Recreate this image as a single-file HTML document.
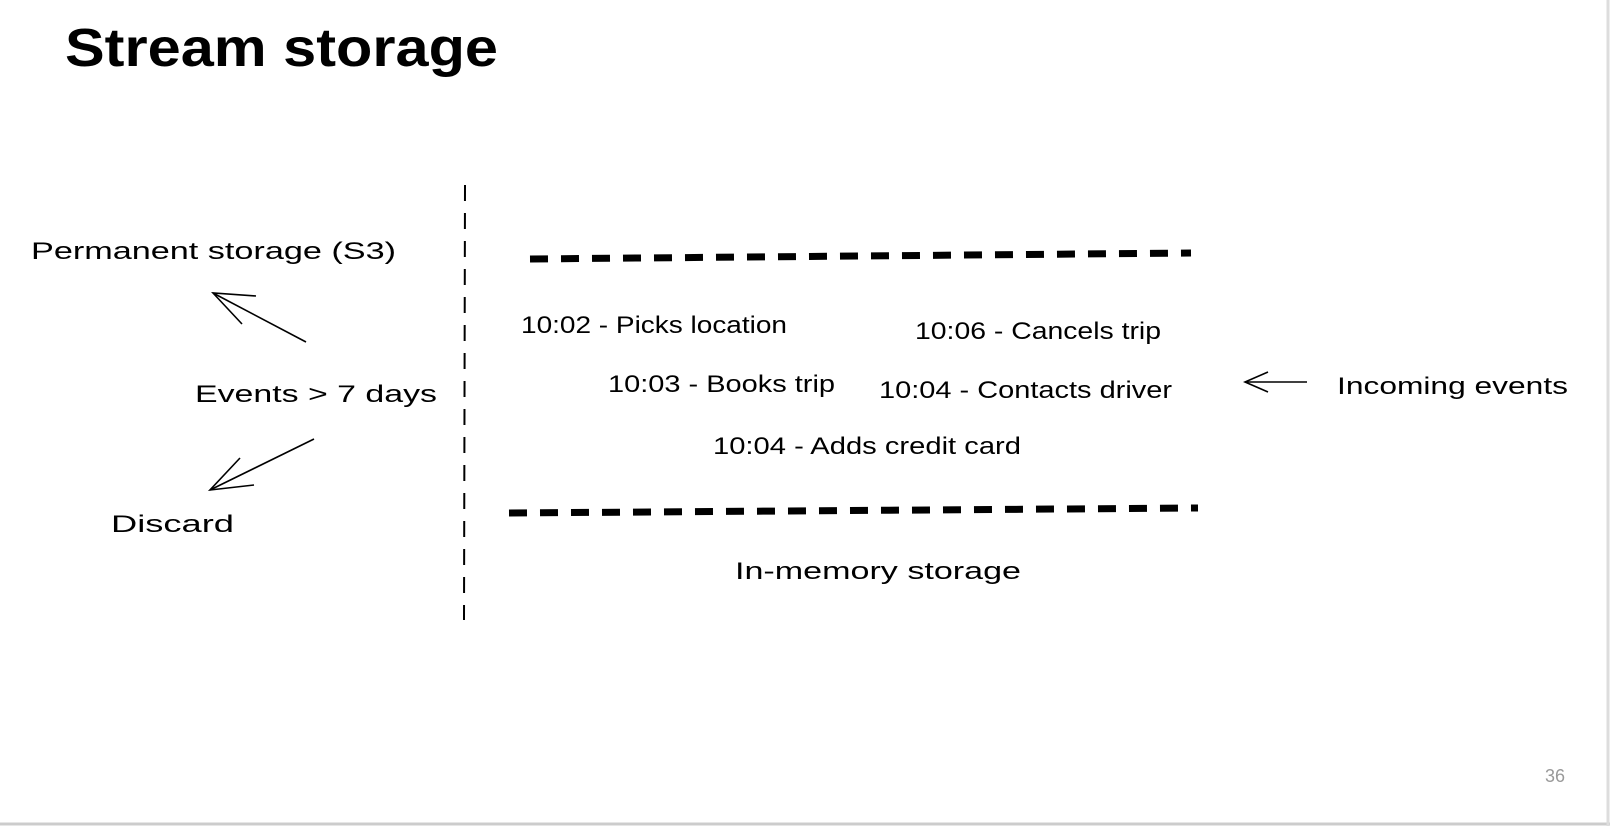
<!DOCTYPE html>
<html><head><meta charset="utf-8"><style>
html,body{margin:0;padding:0;background:#fff;}
svg{display:block}
text{font-family:"Liberation Sans",sans-serif;}
</style></head><body>
<svg width="1610" height="826" viewBox="0 0 1610 826" xmlns="http://www.w3.org/2000/svg">
<rect width="1610" height="826" fill="#fff"/>
<line x1="0" y1="824" x2="1610" y2="824" stroke="#ccc" stroke-width="3"/>
<line x1="1608" y1="0" x2="1608" y2="826" stroke="#ddd" stroke-width="3"/>
<text x="65" y="66" font-size="54" font-weight="bold" textLength="433" lengthAdjust="spacingAndGlyphs">Stream storage</text>
<line x1="465" y1="185" x2="464" y2="620" stroke="#000" stroke-width="2" stroke-dasharray="16,12"/>
<line x1="530" y1="259" x2="1191" y2="253" stroke="#000" stroke-width="7" stroke-dasharray="18,13"/>
<line x1="509" y1="513" x2="1198" y2="508" stroke="#000" stroke-width="7" stroke-dasharray="18,13"/>
<g font-size="24" fill="#000">
<text x="31" y="259" textLength="365" lengthAdjust="spacingAndGlyphs">Permanent storage (S3)</text>
<text x="195" y="402" textLength="242" lengthAdjust="spacingAndGlyphs">Events &gt; 7 days</text>
<text x="111" y="532" textLength="123" lengthAdjust="spacingAndGlyphs">Discard</text>
<text x="521" y="333" textLength="266" lengthAdjust="spacingAndGlyphs">10:02 - Picks location</text>
<text x="915" y="339" textLength="246" lengthAdjust="spacingAndGlyphs">10:06 - Cancels trip</text>
<text x="608" y="392" textLength="227" lengthAdjust="spacingAndGlyphs">10:03 - Books trip</text>
<text x="879" y="398" textLength="293" lengthAdjust="spacingAndGlyphs">10:04 - Contacts driver</text>
<text x="713" y="454" textLength="308" lengthAdjust="spacingAndGlyphs">10:04 - Adds credit card</text>
<text x="735" y="579" textLength="286" lengthAdjust="spacingAndGlyphs">In-memory storage</text>
<text x="1337" y="394" textLength="231" lengthAdjust="spacingAndGlyphs">Incoming events</text>
</g>
<g stroke="#000" stroke-width="1.6" fill="none">
<line x1="306" y1="342" x2="213" y2="293"/>
<polyline points="256,296 213,293 242,324"/>
<line x1="314" y1="439" x2="210" y2="490"/>
<polyline points="240,458 210,490 254,485"/>
<line x1="1307" y1="382" x2="1245" y2="382"/>
<polyline points="1268,372 1245,382 1268,392"/>
</g>
<text x="1545" y="782" font-size="18" fill="#999" font-family="Liberation Sans,sans-serif">36</text>
</svg>
</body></html>
